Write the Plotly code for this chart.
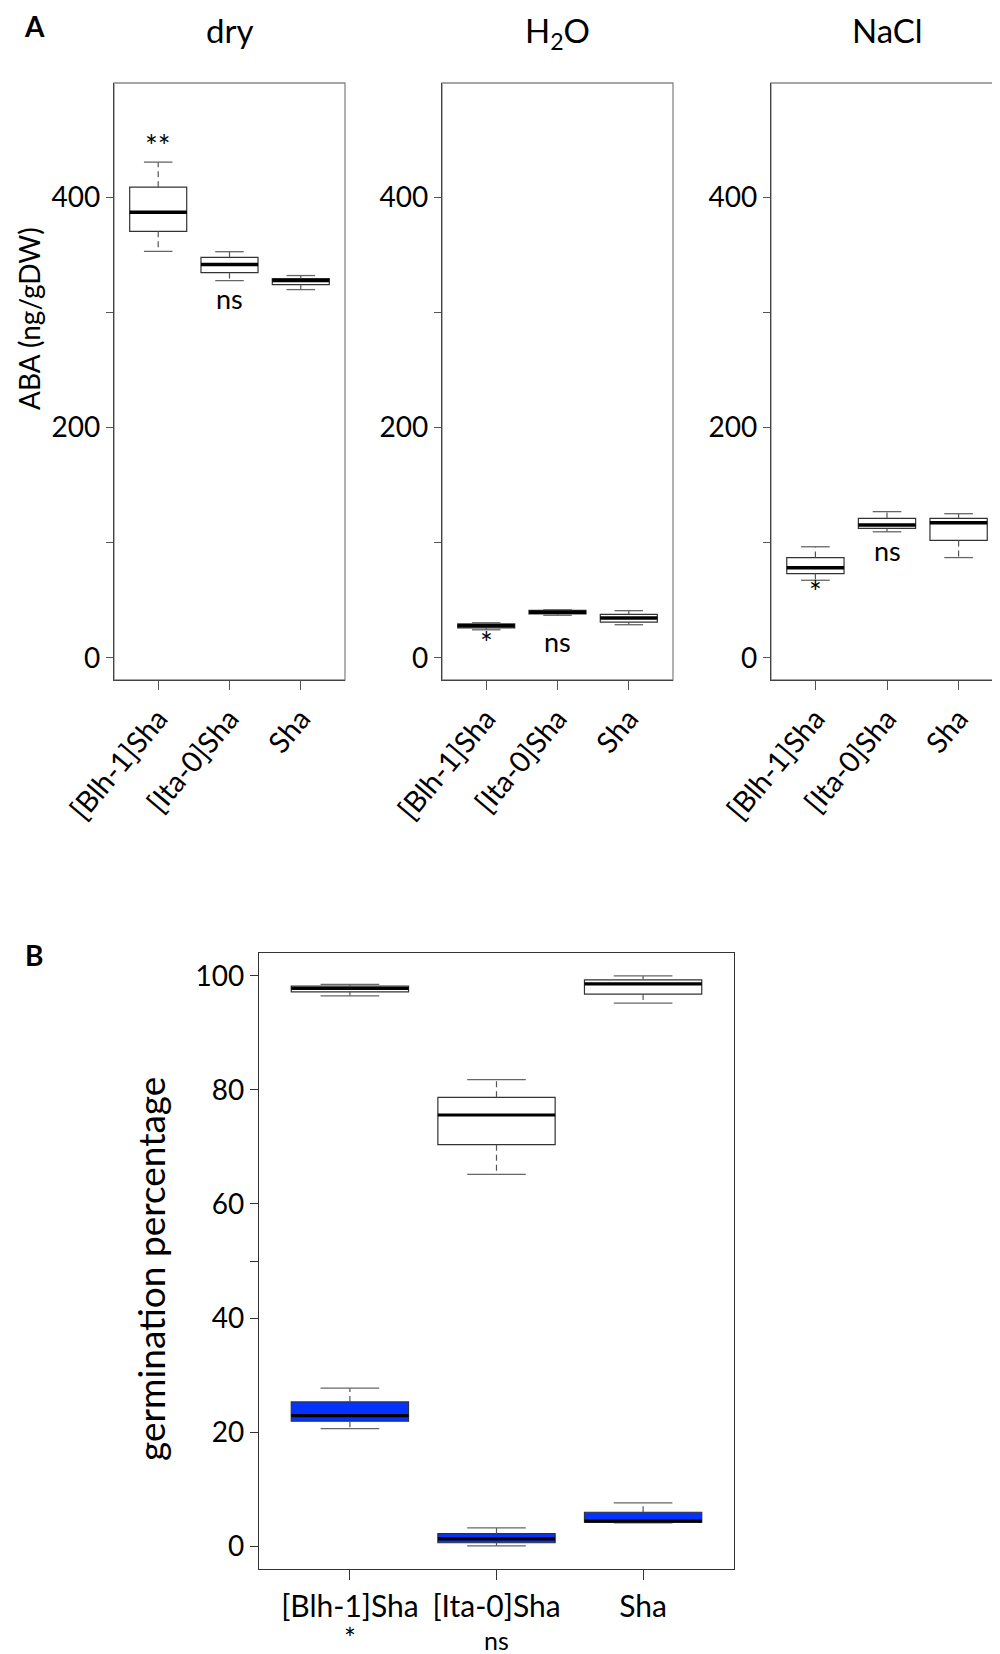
import plotly.graph_objects as go

# ---- data ----
genotypes = ["[Blh-1]Sha", "[Ita-0]Sha", "Sha"]
positions = [1, 2, 3]

# panel A: ABA (ng/gDW), per condition -> lower whisker, q1, median, q3, upper whisker
aba_conditions = ["dry", "H<sub>2</sub>O", "NaCl"]
aba_low = [[353, 327.6, 319.8], [24.4, 37.0, 28.8], [67.4, 109.5, 87.1]]
aba_q1 = [[370.4, 334.6, 324.2], [26.1, 38.3, 31.1], [73.2, 112.4, 102.0]]
aba_med = [[386.9, 341.6, 327.6], [28.0, 39.7, 34.6], [78.2, 115.3, 117.4]]
aba_q3 = [[408.7, 347.7, 329.4], [29.6, 41.2, 37.7], [87.1, 121.1, 121.1]]
aba_high = [[430.5, 352.7, 332.0], [30.5, 41.8, 41.0], [96.5, 127.0, 125.2]]
aba_sig = [["**", "ns", ""], ["*", "ns", ""], ["*", "ns", ""]]
aba_sig_y = [[445, 312, None], [14, 14, None], [58, 93, None]]

# panel B: germination percentage, control (white) and treated (blue)
ctrl_low = [96.5, 65.2, 95.2]
ctrl_q1 = [97.2, 70.4, 96.8]
ctrl_med = [97.8, 75.6, 98.6]
ctrl_q3 = [98.2, 78.7, 99.3]
ctrl_high = [98.5, 81.8, 100.0]

trt_low = [20.6, 0.05, 4.1]
trt_q1 = [21.9, 0.6, 4.2]
trt_med = [22.9, 1.28, 4.4]
trt_q3 = [25.3, 2.2, 5.95]
trt_high = [27.7, 3.2, 7.6]
germ_sig = ["*", "ns", ""]

FONT = "Lato, 'Open Sans', sans-serif"
W, H = 1000, 1654
BOXW = 0.8


def px_x(a, b):
    return [a / W, b / W]


def px_y(top, bottom):
    return [1 - bottom / H, 1 - top / H]


def boxplot(fig, low, q1, med, q3, high, fill, xa, ya, medw=3.5):
    """R-style boxplot: box via go.Box, dashed whiskers + staples + thick median as lines."""
    fig.add_trace(go.Box(
        x=positions, q1=q1, median=med, q3=q3, lowerfence=q1, upperfence=q3,
        width=BOXW, whiskerwidth=0, fillcolor=fill,
        line=dict(color="#333333", width=1.2), boxpoints=False,
        xaxis=xa, yaxis=ya, showlegend=False, hoverinfo="skip"))
    wx, wy, sx, sy, mx, my = [], [], [], [], [], []
    for p, lo, a, m, b, hi in zip(positions, low, q1, med, q3, high):
        wx += [p, p, None, p, p, None]
        wy += [b, hi, None, a, lo, None]
        sx += [p - BOXW / 4, p + BOXW / 4, None, p - BOXW / 4, p + BOXW / 4, None]
        sy += [hi, hi, None, lo, lo, None]
        mx += [p - BOXW / 2, p + BOXW / 2, None]
        my += [m, m, None]
    common = dict(mode="lines", xaxis=xa, yaxis=ya, hoverinfo="skip", showlegend=False)
    fig.add_trace(go.Scatter(x=wx, y=wy, line=dict(color="#555", width=1.2, dash="6px,4px"), **common))
    fig.add_trace(go.Scatter(x=sx, y=sy, line=dict(color="#666", width=1.3), **common))
    fig.add_trace(go.Scatter(x=mx, y=my, line=dict(color="black", width=medw), **common))


def label(text, x, y, size, xref="paper", yref="paper", yanchor="middle", **kw):
    return dict(text=text, x=x, y=y, xref=xref, yref=yref, showarrow=False,
                xanchor="center", yanchor=yanchor,
                font=dict(size=size, color="black", family=FONT), **kw)


fig = go.Figure()
annotations = []
shapes = []

a_domains = [(106, 337), (434, 665), (763, 995)]
for i, cond in enumerate(aba_conditions):
    n = "" if i == 0 else str(i + 1)
    xa, ya = "x" + n, "y" + n
    boxplot(fig, aba_low[i], aba_q1[i], aba_med[i], aba_q3[i], aba_high[i], "white", xa, ya)
    fig.layout["xaxis" + n] = dict(
        domain=px_x(*a_domains[i]), anchor=ya, range=[0.38, 3.62], automargin=False,
        tickvals=positions, ticktext=genotypes, tickangle=-50,
        ticks="outside", ticklen=9, tickcolor="#555",
        showline=True, linecolor="#444", linewidth=1.4,
        showgrid=False, zeroline=False,
        tickfont=dict(size=29, color="black", family=FONT))
    fig.layout["yaxis" + n] = dict(
        domain=px_y(75, 672), anchor=xa, range=[-19.2, 499.2], automargin=False,
        tickvals=[0, 100, 200, 300, 400], ticktext=["0", "", "200", "", "400"],
        ticks="outside", ticklen=7, tickcolor="#555",
        showline=True, linecolor="#444", linewidth=1.4,
        showgrid=False, zeroline=False,
        tickfont=dict(size=28, color="black", family=FONT))
    shapes.append(dict(type="rect", xref=xa + " domain", yref=ya + " domain",
                       x0=0, x1=1, y0=0, y1=1, line=dict(color="#888", width=1.3), layer="below"))
    annotations.append(label(cond, sum(a_domains[i]) / 2 / W, 1, 33, yanchor="top"))
    for p, s, sy in zip(positions, aba_sig[i], aba_sig_y[i]):
        if s:
            annotations.append(label(s, p, sy, 30 if "*" in s else 27, xref=xa, yref=ya))

# panel B
boxplot(fig, ctrl_low, ctrl_q1, ctrl_med, ctrl_q3, ctrl_high, "white", "x4", "y4", medw=3.2)
boxplot(fig, trt_low, trt_q1, trt_med, trt_q3, trt_high, "#0433ff", "x4", "y4", medw=3.2)

fig.layout.xaxis4 = dict(
    domain=px_x(251, 726), anchor="y4", range=[0.38, 3.62], automargin=False,
    tickvals=positions, ticktext=genotypes, tickangle=0,
    ticks="outside", ticklen=10, tickcolor="#333", ticklabelstandoff=1,
    showline=True, mirror=True, linecolor="#333", linewidth=1.4,
    showgrid=False, zeroline=False,
    tickfont=dict(size=30, color="black", family=FONT))
fig.layout.yaxis4 = dict(
    domain=px_y(945, 1561), anchor="x4", range=[-4, 104], automargin=False,
    tickvals=[0, 20, 40, 50, 60, 80, 100], ticktext=["0", "20", "40", "", "60", "80", "100"],
    ticks="outside", ticklen=8, tickcolor="#333",
    showline=True, mirror=True, linecolor="#333", linewidth=1.4,
    showgrid=False, zeroline=False,
    tickfont=dict(size=28, color="black", family=FONT))
for p, s in zip(positions, germ_sig):
    if s:
        annotations.append(label(s, p, 5 / H, 28 if s == "*" else 25, xref="x4", yanchor="bottom"))

annotations += [
    label("<b>A</b>", 26 / W, 1 - 18 / H, 28),
    label("<b>B</b>", 26 / W, 1 - 947 / H, 28),
    label("ABA (ng/gDW)", 21 / W, 1 - 311 / H, 28, textangle=-90),
    label("germination percentage", 142 / W, 1 - 1261 / H, 37, textangle=-90),
]

fig.update_layout(
    width=W, height=H, margin=dict(l=0, r=0, t=0, b=0, autoexpand=False),
    paper_bgcolor="white", plot_bgcolor="white",
    font=dict(family=FONT, color="black"),
    annotations=annotations, shapes=shapes, showlegend=False)

fig.write_html("out.html")
